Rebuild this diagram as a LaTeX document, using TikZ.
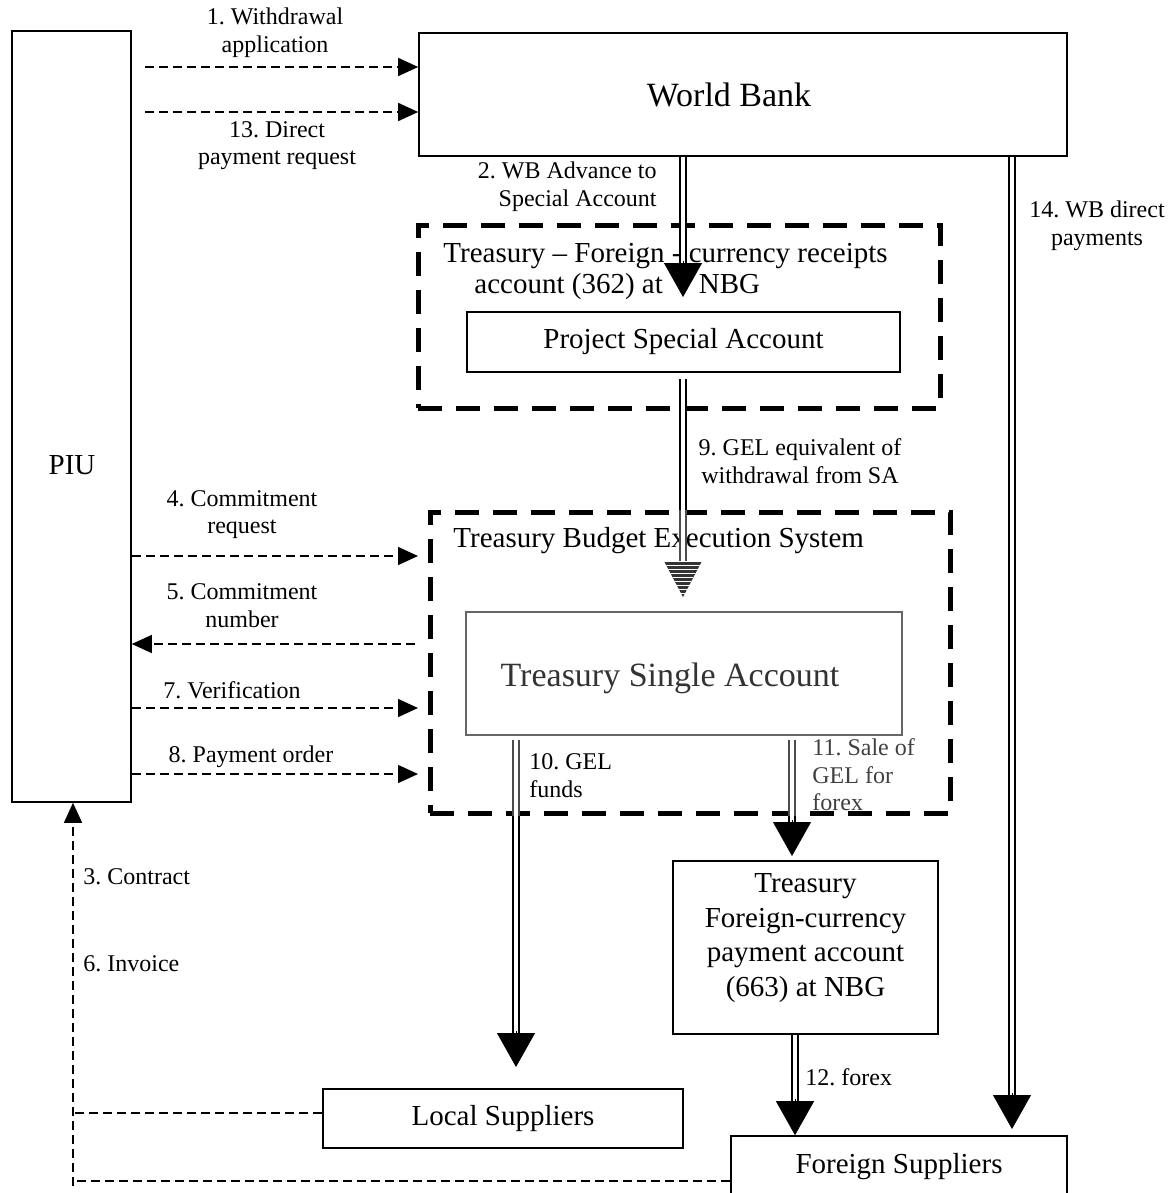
\documentclass[tikz,border=0pt]{standalone}
\usepackage{fontspec}
\setmainfont{Liberation Serif}
\usetikzlibrary{arrows.meta,patterns.meta,calc}
\begin{document}
\frenchspacing
\begin{tikzpicture}[x=0.5pt,y=-0.5pt,
  box/.style={draw, line width=0.8pt, inner sep=0pt, font=\fontsize{14.5}{17.3}\selectfont},
  bigbox/.style={draw, line width=2.5pt, dash pattern=on 12pt off 7pt, inner sep=0pt},
  txt/.style={inner sep=0pt, font=\fontsize{14.5}{17.3}\selectfont},
  lbl/.style={inner sep=0pt, align=center, font=\fontsize{12}{13.8}\selectfont},
  thindash/.style={line width=0.75pt, dash pattern=on 4.5pt off 2.5pt},
  darr/.style={thindash, -{Triangle[length=10pt,width=9pt]}},
  dbl/.style={double, line width=0.9pt, double distance=1.8pt},
  bighead/.style={-{Triangle[length=17pt,width=19pt]}, line width=0.4pt},
]
\useasboundingbox (0,0) rectangle (1169,1193);

% boxes
\node[box, minimum width=59.5pt, minimum height=385.5pt] (piu) at (71.5,416.5) {};
\node[txt] (piul) at (72,465) {PIU};
\node[box, minimum width=324pt, minimum height=61.5pt] (wb) at (743,94.5) {};
\node[txt, font=\fontsize{17}{20}\selectfont] (wbl) at (729,95) {World Bank};
\node[bigbox, minimum width=261pt, minimum height=91.5pt] (tfc) at (679,316.5) {};
\node[txt, anchor=west] (tfc1) at (443,256) {Treasury – Foreign - currency receipts};
\node[txt, anchor=west] (tfc2) at (474,287) {account (362) at\hspace{18pt}NBG};
\node[box, minimum width=216.5pt, minimum height=30pt] (psa) at (683.5,342) {Project Special Account};
\node[bigbox, minimum width=260pt, minimum height=150.5pt] (tbes) at (690,662.5) {};
\node[txt, anchor=west] (tbesl) at (453,541) {Treasury Budget Execution System};
\node[box, draw=black!60, line width=1pt, minimum width=218pt, minimum height=61.5pt] (tsa) at (684,673.5) {};
\node[txt, text=black!80, font=\fontsize{17}{20}\selectfont] (tsal) at (670,678) {Treasury Single Account};
\node[box, minimum width=132.5pt, minimum height=86.5pt] (tfp) at (805.5,947.5) {};
\node[txt, align=center] (tfpt) at (805.5,938) {Treasury\\Foreign-currency\\payment account\\(663) at NBG};
\node[box, minimum width=180pt, minimum height=29.5pt] (local) at (503,1118.5) {Local Suppliers};
\node[box, minimum width=168pt, minimum height=31pt] (foreign) at (899,1167) {Foreign Suppliers};

% labels
\node[lbl] (l1) at (275,32.5) {1. Withdrawal\\application};
\node[lbl] (l13) at (277,145.5) {13. Direct\\payment request};
\node[lbl, anchor=east, align=right] (l2) at (657,187) {2. WB Advance to\\Special Account};
\node[lbl] (l14) at (1097,226) {14. WB direct\\payments};
\node[lbl] (l9) at (800,461) {9. GEL equivalent of\\withdrawal from SA};
\node[lbl] (l4) at (242,514.5) {4. Commitment\\request};
\node[lbl] (l5) at (242,605.5) {5. Commitment\\number};
\node[lbl] (l7) at (232,690) {7. Verification};
\node[lbl] (l8) at (251,757) {8. Payment order};
\node[lbl, anchor=west, align=left] (l10) at (529,775.5) {10. GEL\\funds};
\node[lbl, anchor=west, align=left, text=black!75] (l11) at (812,775) {11. Sale of\\GEL for\\forex};
\node[lbl, anchor=west] (l12) at (805,1077) {12. forex};
\node[lbl, anchor=west] (l3) at (83,877) {3. Contract};
\node[lbl, anchor=west] (l6) at (83,964) {6. Invoice};

% coordinates
\coordinate (a1s) at (145,67);
\coordinate (a13s) at (145,112);
\coordinate (a4e) at (418,556);
\coordinate (a5s) at (415,644);
\coordinate (a7e) at (418,708);
\coordinate (a8e) at (418,774);
\coordinate (jl) at (73,1113);
\coordinate (jf) at (73,1181);
\coordinate (jb) at (73,1186);
\coordinate (t2) at (683,297);
\coordinate (t9) at (683,597);
\coordinate (t10) at (516,1067);
\coordinate (t11) at (792,856);
\coordinate (t14) at (1012,1129);
\coordinate (s10) at (516,740);
\coordinate (s11) at (792,740);

% dashed connectors
\draw[darr] (a1s) -- (wb.west |- a1s);
\draw[darr] (a13s) -- (wb.west |- a13s);
\draw[darr] (piu.east |- a4e) -- (a4e);
\draw[darr] (a5s) -- (piu.east |- a5s);
\draw[darr] (piu.east |- a7e) -- (a7e);
\draw[darr] (piu.east |- a8e) -- (a8e);
\draw[thindash] (local.west |- jl) -- (jl);
\draw[thindash] (foreign.west |- jf) -- (jf);
\draw[darr] (jb) -- (piu.south -| jb);

% heavy connectors
\draw[dbl] (wb.south -| t2) -- ($(t2)+(0,-32)$);
\draw[bighead] ($(t2)+(0,-36)$) -- (t2);

\draw[dbl] ($(psa.south -| t9)+(0,6)$) -- (t9 |- tbes.north);
\draw[dbl, black!70] (t9 |- tbes.north) -- ($(t9)+(0,-34)$);
\fill[black!80] ($(t9)+(-19,-36)$) -- ($(t9)+(19,-36)$) -- (t9) -- cycle;
\fill[pattern={Lines[angle=0,distance=2pt,line width=0.3pt]}, pattern color=white]
  ($(t9)+(-19,-36)$) -- ($(t9)+(19,-36)$) -- (t9) -- cycle;

\draw[dbl, black!70] (s10) -- (s10 |- tbes.south);
\draw[dbl] (s10 |- tbes.south) -- ($(t10)+(0,-32)$);
\draw[bighead] ($(t10)+(0,-36)$) -- (t10);

\draw[dbl, black!70] (s11) -- (s11 |- tbes.south);
\draw[dbl] (s11 |- tbes.south) -- ($(t11)+(0,-32)$);
\draw[bighead] ($(t11)+(0,-36)$) -- (t11);

\draw[dbl] (tfp.south -| 795,0) -- ($(foreign.north -| 795,0)+(0,-32)$);
\draw[bighead] ($(foreign.north -| 795,0)+(0,-36)$) -- (foreign.north -| 795,0);

\draw[dbl] (wb.south -| t14) -- ($(t14)+(0,-32)$);
\draw[bighead] ($(t14)+(0,-36)$) -- (t14);
\end{tikzpicture}
\end{document}
